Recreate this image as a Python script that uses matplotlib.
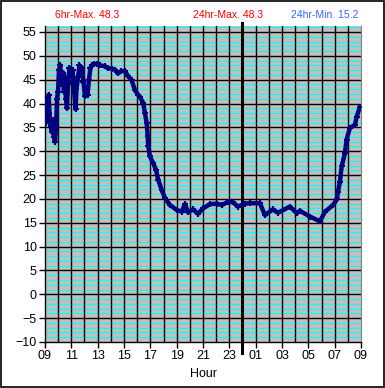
import matplotlib
matplotlib.use("Agg")
import matplotlib.pyplot as plt
import numpy as np

# hours since midnight of day 1 (9 -> 33 covers 24 h)
hours = [9.00, 9.04, 9.11, 9.19, 9.28, 9.34, 9.42, 9.53, 9.61, 9.68, 9.76, 9.84,
         9.91, 9.99, 10.06, 10.16, 10.25, 10.37, 10.44, 10.52, 10.59, 10.67,
         10.75, 10.86, 10.97, 11.09, 11.16, 11.24, 11.32, 11.39, 11.51, 11.62,
         11.73, 11.81, 11.92, 12.04, 12.15, 12.23, 12.34, 12.45, 12.57, 12.72,
         12.95, 13.18, 13.56, 13.78, 14.09, 14.32, 14.54, 14.77, 15.07, 15.30,
         15.58, 15.83, 16.08, 16.21, 16.46, 16.59, 16.72, 16.80, 16.84, 16.97,
         17.22, 17.43, 17.60, 17.86, 18.11, 18.49, 19.00, 19.38, 19.63, 19.86,
         20.24, 20.62, 21.00, 21.53, 22.06, 22.44, 22.90, 23.28, 23.65, 24.19,
         24.57, 25.33, 25.70, 26.30, 26.70, 27.60, 28.13, 28.36, 29.12, 29.88,
         30.26, 30.87, 31.17, 31.25, 31.40, 31.53, 31.78, 31.90, 32.16, 32.54,
         32.67, 32.92]
temps = [40.0, 36.0, 40.5, 37.0, 41.8, 38.0, 35.3, 34.0, 36.5, 33.0, 32.0, 35.0,
         41.0, 42.5, 47.0, 48.0, 44.0, 46.5, 42.5, 45.5, 41.0, 39.0,
         44.0, 47.5, 46.0, 47.0, 44.5, 42.0, 38.8, 43.0, 45.5, 48.0,
         46.5, 47.5, 44.5, 41.5, 43.0, 41.8, 45.0, 47.5, 48.0, 48.3,
         48.3, 48.0, 47.8, 47.4, 47.3, 47.1, 46.3, 46.8, 46.8, 45.8,
         44.9, 42.8, 41.8, 41.4, 40.1, 38.0, 35.9, 33.1, 31.0, 28.9,
         27.5, 26.1, 24.0, 21.9, 20.2, 18.7, 17.7, 17.3, 18.9, 17.2,
         17.8, 16.9, 18.0, 18.9, 19.0, 18.7, 19.4, 19.3, 18.4, 19.0,
         19.1, 19.1, 16.6, 17.8, 17.1, 18.4, 17.0, 17.5, 16.3, 15.3,
         17.3, 18.7, 19.9, 21.5, 23.6, 26.8, 29.6, 32.4, 34.9, 35.5,
         37.2, 39.3]

tick_hours = list(range(9, 34, 2))
tick_labels = [f"{h % 24:02d}" for h in tick_hours]

plt.rcParams["font.family"] = ["Liberation Sans", "DejaVu Sans"]

fig = plt.figure(figsize=(3.85, 3.88), dpi=100)
ax = fig.add_axes([45/385, 1-342/388, 316/385, 316/388])
ax.set_facecolor("#c0c0c0")

ax.set_xlim(9, 33)
ax.set_ylim(-10, 56.25)

ax.set_yticks(np.arange(-10, 56, 5))
ax.set_xticks(tick_hours)
ax.set_xticklabels(tick_labels)

# background grid: cyan every degree, black every 5 degrees and every hour
for v in range(-9, 57):
    if v % 5:
        ax.axhline(v, color="#00ffff", lw=0.8, zorder=0.5)
for v in range(-5, 56, 5):
    ax.axhline(v, color="black", lw=1.0, zorder=0.8)
for h in range(10, 33):
    ax.axvline(h, color="black", lw=1.0, zorder=0.8)

ax.tick_params(which="major", length=4, width=1, direction="out",
               labelsize=9, colors="black", pad=2)

ax.spines["top"].set_visible(False)
ax.spines["right"].set_color("#808080")
ax.spines["left"].set_linewidth(1)
ax.spines["bottom"].set_linewidth(1)

# midnight divider
ax.axvline(24, ymin=-0.035, ymax=1.01, color="black", lw=2.2, clip_on=False, zorder=3)

ax.plot(hours, temps, color="#000080", lw=3.2, marker="+", ms=5, mew=1.5, zorder=4)

ax.set_xlabel("Hour", fontsize=9, labelpad=4)

fig.text(87/385, 1-15/388, "6hr-Max. 48.3", color="#ff0000", fontsize=7.5,
         ha="center", va="center")
fig.text(228/385, 1-15/388, "24hr-Max. 48.3", color="#ff0000", fontsize=7.5,
         ha="center", va="center")
fig.text(325/385, 1-15/388, "24hr-Min. 15.2", color="#3366ff", fontsize=7.5,
         ha="center", va="center")

# outer frame
fig.patches.append(plt.Rectangle((0.0015, 0.0015), 0.997, 0.997, transform=fig.transFigure,
                                 fill=False, edgecolor="black", lw=1.2))

fig.savefig("out.png", dpi=100)
